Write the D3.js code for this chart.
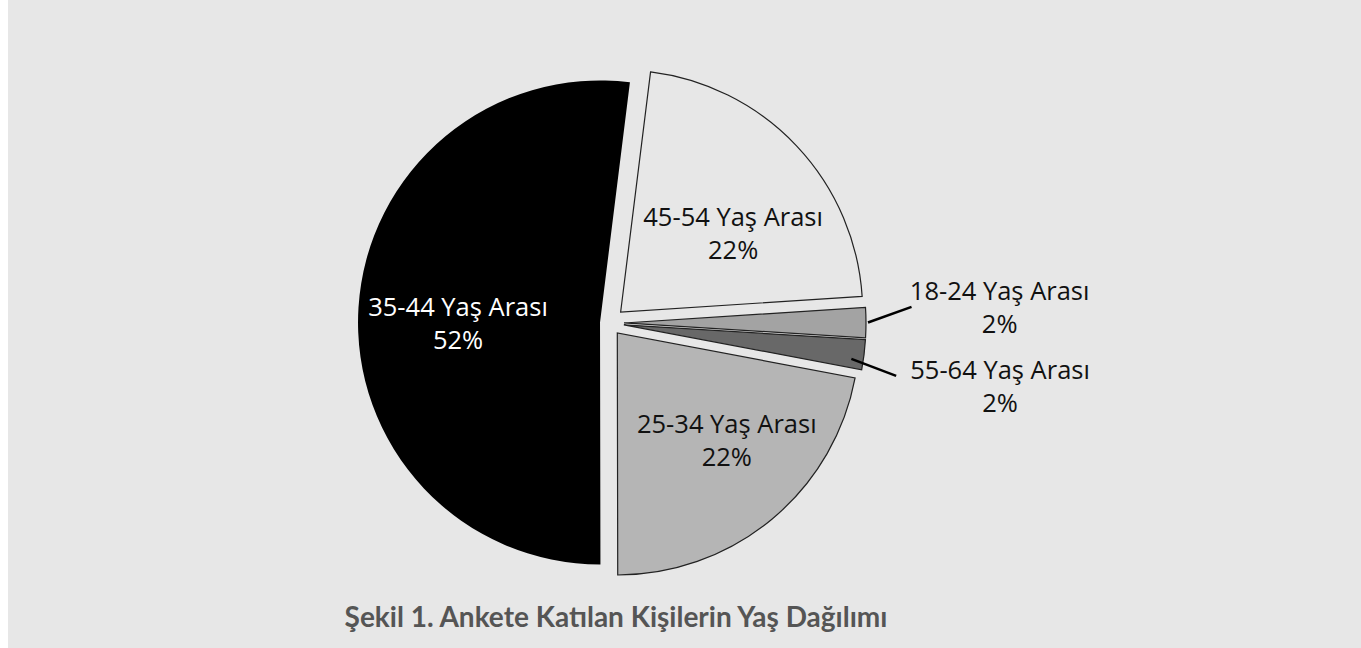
<!DOCTYPE html>
<html>
<head>
<meta charset="utf-8">
<script src="https://cdn.jsdelivr.net/npm/d3@7"></script>
<style>
  html, body { margin: 0; padding: 0; background: #ffffff; }
  svg { display: block; }
</style>
</head>
<body>
<svg id="chart" width="1361" height="648"></svg>
<script>
// ---- data ----
const categories = ["45-54 Yaş Arası", "18-24 Yaş Arası", "55-64 Yaş Arası", "25-34 Yaş Arası", "35-44 Yaş Arası"];
const values = [22, 2, 2, 22, 52];
const percentLabels = ["22%", "2%", "2%", "22%", "52%"];
const chartTitle = "Şekil 1. Ankete Katılan Kişilerin Yaş Dağılımı";

// ---- style / layout ----
const fills = ["#e7e7e7", "#a3a3a3", "#686868", "#b5b5b5", "#000000"];
const strokes = ["#222", "#222", "#222", "#222", "none"];
const textColors = ["#111", "#111", "#111", "#111", "#ffffff"];
const explode = [16, 15, 15, 13, 9];
// inside labels: [angle offset from bisector (deg), radius]; outside: null
const insideLabel = [[7.9, 138], null, null, [-6, 153], [-3.7, 142]];
// outside labels: leader start [angleDeg, r], leader end [angleDeg, r], label [angleDeg, r]
const outsideLabel = [null,
  {s: [89.9, 244], e: [86.8, 288], l: [87.5, 376]},
  {s: [98.5, 230], e: [100.6, 277], l: [99.1, 381]},
  null, null];

const W = 1361, H = 648;
const cx = 609, cy = 323, R = 242;
const startDeg = 7.1;
const lineGap = 16.5;

const svg = d3.select("#chart");
svg.append("rect").attr("x", 8).attr("y", 0).attr("width", W - 8).attr("height", H).attr("fill", "#e7e7e7");

const toRad = d => d * Math.PI / 180;
const polar = (deg, r) => [Math.sin(toRad(deg)) * r, -Math.cos(toRad(deg)) * r];

const pie = d3.pie().sort(null).value(d => d)
  .startAngle(toRad(startDeg)).endAngle(toRad(startDeg) + 2 * Math.PI);
const arcs = pie(values);
const arc = d3.arc().innerRadius(0).outerRadius(R);

const g = svg.append("g").attr("transform", `translate(${cx},${cy})`);

const slices = g.selectAll("g.slice").data(arcs).enter().append("g")
  .attr("class", "slice")
  .attr("transform", (d, i) => {
    const mid = (d.startAngle + d.endAngle) / 2;
    return `translate(${Math.sin(mid) * explode[i]},${-Math.cos(mid) * explode[i]})`;
  });

slices.append("path")
  .attr("d", arc)
  .attr("fill", (d, i) => fills[i])
  .attr("stroke", (d, i) => strokes[i])
  .attr("stroke-width", 1.2)
  .attr("stroke-linejoin", "miter");

const fontLabel = "'Open Sans', 'Noto Sans', sans-serif";

slices.each(function(d, i) {
  const sg = d3.select(this);
  const midDeg = (d.startAngle + d.endAngle) / 2 * 180 / Math.PI;
  let lx, ly;
  if (insideLabel[i]) {
    [lx, ly] = polar(midDeg + insideLabel[i][0], insideLabel[i][1]);
  } else {
    const o = outsideLabel[i];
    const [sx, sy] = polar(o.s[0], o.s[1]);
    const [ex, ey] = polar(o.e[0], o.e[1]);
    sg.append("line").attr("x1", sx).attr("y1", sy).attr("x2", ex).attr("y2", ey)
      .attr("stroke", "#000").attr("stroke-width", 2.5);
    [lx, ly] = polar(o.l[0], o.l[1]);
  }
  const lines = [categories[i], percentLabels[i]];
  lines.forEach((txt, k) => {
    sg.append("text")
      .attr("x", lx)
      .attr("y", ly + (k === 0 ? -lineGap : lineGap))
      .attr("text-anchor", "middle")
      .attr("dominant-baseline", "central")
      .attr("font-family", fontLabel)
      .attr("font-size", 25.5)
      .attr("fill", textColors[i])
      .text(txt);
  });
});

svg.append("text")
  .attr("x", 616).attr("y", 627)
  .attr("text-anchor", "middle")
  .attr("font-family", "Lato, 'Open Sans', sans-serif")
  .attr("font-weight", "bold")
  .attr("font-size", 28)
  .attr("fill", "#555555")
  .text(chartTitle);
</script>
</body>
</html>
